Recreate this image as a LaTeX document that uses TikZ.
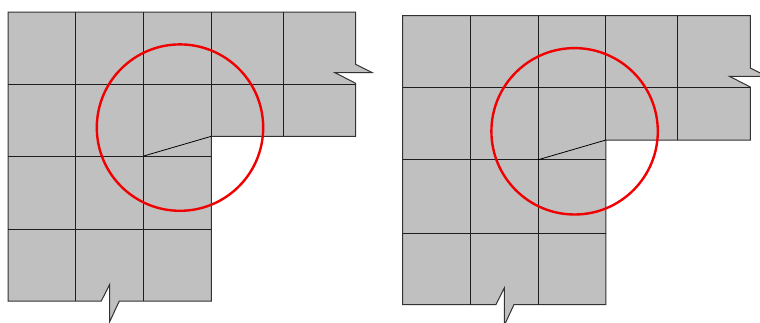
\documentclass[tikz,border=0pt]{standalone}
\tikzset{
  slabfill/.style={fill={rgb,255:red,192;green,192;blue,192}, draw={rgb,255:red,50;green,50;blue,50}, line width=0.75pt, line join=miter},
  gridline/.style={draw={rgb,255:red,30;green,30;blue,30}, line width=0.75pt},
  diagline/.style={draw=black, line width=0.6pt},
  ring/.style={draw={rgb,255:red,240;green,0;blue,0}, line width=1.8pt}
}
\newcommand\DrawSlabFig{%
  \coordinate (tl) at (8,12);
  \path[slabfill] (tl) -- (355.7,12) -- (355.7,64.3) -- (372.3,72.7) -- (335,72.7) -- (355.7,83.3)
     -- (355.7,136.3) -- (211.3,136.3) -- (211.3,301) -- (119.3,301) -- (109.7,321.7)
     -- (109.7,284.3) -- (101.3,301) -- (8,301) -- cycle;
  \draw[gridline] (8,84) -- (355.7,84);
  \draw[gridline] (8,156) -- (211.3,156);
  \draw[gridline] (8,229.3) -- (211.3,229.3);
  \draw[gridline] (75.7,12) -- (75.7,301);
  \draw[gridline] (143.7,12) -- (143.7,301);
  \draw[gridline] (211.3,12) -- (211.3,136.3);
  \draw[gridline] (283.3,12) -- (283.3,136.3);
  \coordinate (dA) at (143.7,156);
  \coordinate (dB) at (211.3,136.3);
  \draw[diagline] (dA) -- (dB);
  \coordinate (cc) at (180,127.6);
  \draw[ring] (cc) circle[radius=83.2];
}
\begin{document}
\begin{tikzpicture}[x=0.75pt,y=-0.75pt]
  \useasboundingbox (0,0) rectangle (760,322);
  \clip (0,0) rectangle (760,322);
  \fill[white] (0,0) rectangle (760,322);
  \begin{scope}
    \DrawSlabFig
  \end{scope}
  \begin{scope}[shift={(394.6,3.7)}]
    \DrawSlabFig
  \end{scope}
\end{tikzpicture}
\end{document}
